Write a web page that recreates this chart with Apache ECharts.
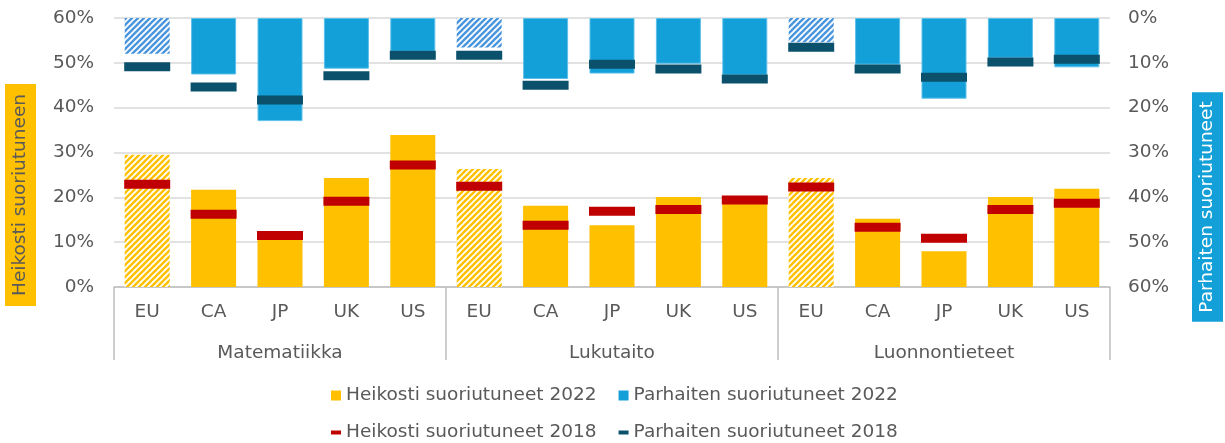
<!DOCTYPE html>
<html>
<head>
<meta charset="utf-8">
<script src="https://cdn.jsdelivr.net/npm/echarts@6/dist/echarts.min.js"></script>
<style>
html,body{margin:0;padding:0;background:#fff;}
#chart{width:1225px;height:443px;}
</style>
</head>
<body>
<div id="chart"></div>
<script>
const groups = ['Matematiikka', 'Lukutaito', 'Luonnontieteet'];
const countries = ['EU', 'CA', 'JP', 'UK', 'US'];
const yTicks = [0, 10, 20, 30, 40, 50, 60];

const heikosti2022 = [29.5, 21.7, 10.6, 24.3, 33.9, 26.3, 18.1, 13.8, 20.1, 18.9, 24.3, 15.2, 8.0, 20.1, 21.9];
const heikosti2018 = [22.9, 16.2, 11.5, 19.1, 27.2, 22.5, 13.8, 16.9, 17.3, 19.4, 22.3, 13.3, 10.9, 17.3, 18.7];
const parhaiten2022 = [8.0, 12.6, 23.0, 11.3, 7.5, 6.6, 13.6, 12.4, 10.2, 12.7, 5.4, 10.4, 18.0, 8.9, 11.0];
const parhaiten2018 = [10.9, 15.4, 18.3, 12.9, 8.3, 8.3, 15.0, 10.3, 11.4, 13.6, 6.5, 11.4, 13.2, 9.8, 9.2];

const names = {
  h22: 'Heikosti suoriutuneet 2022',
  p22: 'Parhaiten suoriutuneet 2022',
  h18: 'Heikosti suoriutuneet 2018',
  p18: 'Parhaiten suoriutuneet 2018'
};

const FONT = '"DejaVu Sans", Verdana, sans-serif';
const FS = 18.5;
const TXT = '#595959';
const YELLOW = '#FFC000';
const BLUE = '#139FD7';
const BLUE_EDGE = '#5DC0EA';
const BLUE_HATCH = '#4A96DE';
const RED = '#C00000';
const TEAL = '#0B516C';

function hatch(color) {
  const c = document.createElement('canvas');
  c.width = 6; c.height = 6;
  const g = c.getContext('2d');
  g.fillStyle = '#fff';
  g.fillRect(0, 0, 6, 6);
  g.strokeStyle = color;
  g.lineWidth = 2.4;
  for (let o = -6; o <= 6; o += 6) {
    g.beginPath();
    g.moveTo(o - 1, 7);
    g.lineTo(o + 7, -1);
    g.stroke();
  }
  return { image: c, repeat: 'repeat' };
}

const cats = [];
groups.forEach(gr => countries.forEach(c => cats.push(gr + '|' + c)));

function barData(vals, hatchColor) {
  return vals.map((v, i) => {
    const isEU = cats[i].split('|')[1] === 'EU';
    return isEU ? { value: v, itemStyle: { color: hatch(hatchColor), borderWidth: 0 } } : v;
  });
}

const chart = echarts.init(document.getElementById('chart'), null, { renderer: 'canvas' });

const option = {
  animation: false,
  textStyle: { fontFamily: FONT, color: TXT },
  grid: [
    { left: 114, right: 115, top: 18, bottom: 156, containLabel: false },
    { left: 114, right: 115, top: 18, bottom: 156, containLabel: false },
    { left: 102, right: 115, top: 18, bottom: 156, containLabel: false }
  ],
  legend: [
    {
      data: [
        { name: names.h22, icon: 'rect', itemStyle: { borderWidth: 0 } },
        { name: names.p22, icon: 'rect', itemStyle: { borderWidth: 0 } }
      ],
      left: 331, top: 386, padding: 0, itemGap: 22,
      itemWidth: 10, itemHeight: 10,
      textStyle: { fontFamily: FONT, fontSize: FS, color: TXT }
    },
    {
      data: [
        { name: names.h18, icon: 'rect' },
        { name: names.p18, icon: 'rect' }
      ],
      left: 331, top: 423, padding: 0, itemGap: 22,
      itemWidth: 10, itemHeight: 4,
      textStyle: { fontFamily: FONT, fontSize: FS, color: TXT }
    }
  ],
  xAxis: [
    {
      type: 'category',
      gridIndex: 0,
      data: cats,
      position: 'bottom',
      axisLine: { show: true, lineStyle: { color: '#BFBFBF', width: 1.5 } },
      axisTick: { show: false },
      axisLabel: {
        interval: 0, margin: 16, fontSize: FS, color: TXT, fontFamily: FONT,
        formatter: v => v.split('|')[1]
      },
      splitLine: { show: false }
    },
    {
      type: 'category',
      gridIndex: 1,
      data: groups,
      position: 'bottom',
      axisLine: { show: false },
      axisTick: { show: true, interval: 0, length: 73, lineStyle: { color: '#BFBFBF', width: 1.5 } },
      axisLabel: { interval: 0, margin: 57, fontSize: FS, color: TXT, fontFamily: FONT },
      splitLine: { show: false }
    },
    {
      type: 'category', gridIndex: 2, data: groups, show: false
    }
  ],
  yAxis: [
    {
      type: 'value', gridIndex: 0, position: 'left',
      min: yTicks[0], max: yTicks[yTicks.length - 1], interval: 10,
      axisLine: { show: false }, axisTick: { show: false },
      axisLabel: { show: false },
      splitLine: { show: true, lineStyle: { color: '#D9D9D9', width: 1.5 } }
    },
    {
      type: 'value', gridIndex: 0, position: 'right', inverse: true,
      min: yTicks[0], max: yTicks[yTicks.length - 1], interval: 10,
      axisLine: { show: false }, axisTick: { show: false },
      axisLabel: { formatter: '{value}%', margin: 18, fontSize: FS, color: TXT, fontFamily: FONT },
      splitLine: { show: false }
    },
    {
      type: 'value', gridIndex: 1, min: 0, max: 60, show: false
    },
    {
      type: 'value', gridIndex: 2, position: 'left',
      min: yTicks[0], max: yTicks[yTicks.length - 1], interval: 10,
      axisLine: { show: false }, axisTick: { show: false },
      axisLabel: { formatter: '{value}%', margin: 8, fontSize: FS, color: TXT, fontFamily: FONT },
      splitLine: { show: false }
    }
  ],
  series: [
    {
      name: names.h22, type: 'bar', xAxisIndex: 0, yAxisIndex: 0,
      barWidth: 45, barGap: '-100%',
      itemStyle: { color: YELLOW },
      data: barData(heikosti2022, YELLOW), z: 2
    },
    {
      name: names.p22, type: 'bar', xAxisIndex: 0, yAxisIndex: 1,
      barWidth: 45, barGap: '-100%',
      itemStyle: { color: BLUE, borderColor: BLUE_EDGE, borderWidth: 1 },
      data: barData(parhaiten2022, BLUE_HATCH), z: 2
    },
    {
      name: names.h18, type: 'scatter', xAxisIndex: 0, yAxisIndex: 0,
      symbol: 'rect', symbolSize: [46, 9],
      itemStyle: { color: RED, opacity: 1 },
      data: heikosti2018, z: 5
    },
    {
      name: names.p18, type: 'scatter', xAxisIndex: 0, yAxisIndex: 1,
      symbol: 'rect', symbolSize: [46, 9],
      itemStyle: { color: TEAL, opacity: 1 },
      data: parhaiten2018, z: 5
    }
  ],
  graphic: [
    {
      type: 'text', x: 20.5, y: 195, rotation: Math.PI / 2,
      style: {
        text: 'Heikosti suoriutuneen', font: FS + 'px ' + FONT, fill: TXT,
        backgroundColor: YELLOW, padding: [6, 10, 6, 10],
        align: 'center', verticalAlign: 'middle'
      }
    },
    {
      type: 'text', x: 1207.5, y: 207, rotation: Math.PI / 2,
      style: {
        text: 'Parhaiten suoriutuneet', font: FS + 'px ' + FONT, fill: '#fff',
        backgroundColor: BLUE, padding: [6, 9, 6, 9],
        align: 'center', verticalAlign: 'middle'
      }
    }
  ]
};

chart.setOption(option);
</script>
</body>
</html>
